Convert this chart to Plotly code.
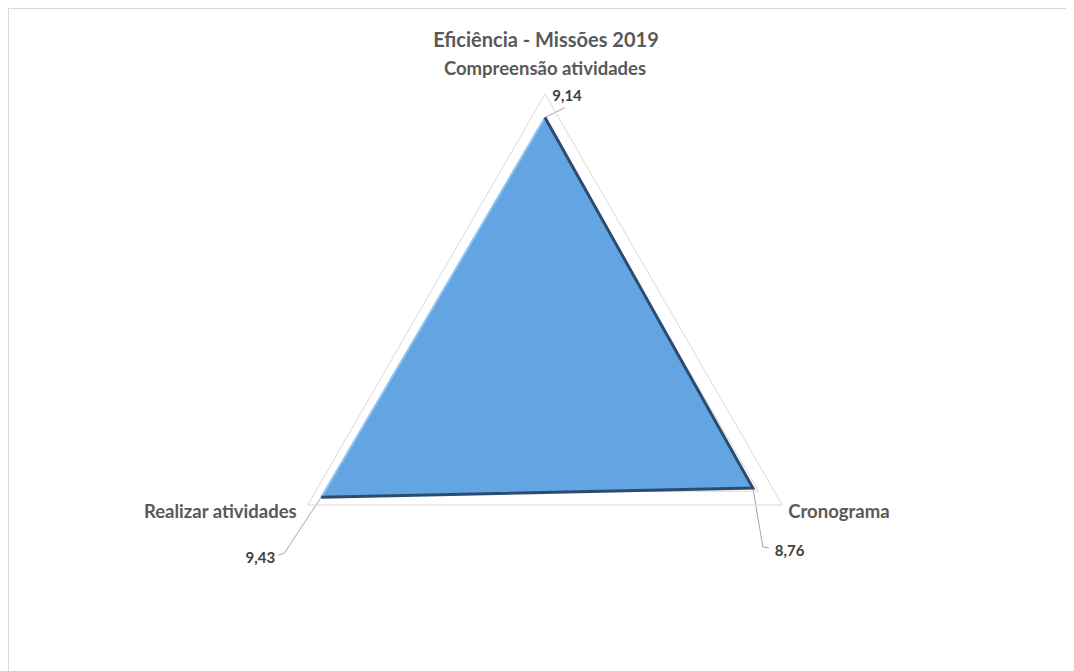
import math
import plotly.graph_objects as go

# chart data
categories = ["Compreensão atividades", "Cronograma", "Realizar atividades"]
values = [9.14, 8.76, 9.43]
title_text = "Eficiência - Missões 2019"
r_max = 10

# browser body margin is 8px, so the figure is a bit smaller than the window
W, H = 1066, 663
cx, cy, R = 537, 360, 274  # polar centre / radius in px
S = R / r_max  # px per unit

dom_x = [(cx - R) / W, (cx + R) / W]
dom_y = [1 - (cy + R) / H, 1 - (cy - R) / H]

grey = "#595959"
font_family = "Lato, 'Open Sans', sans-serif"


def fmt(v):
    return f"{v:.2f}".replace(".", ",")


def to_xy(r, i):
    # position of value r on spoke i in the overlay axes (clockwise from top)
    a = math.radians(120 * i)
    return r * math.sin(a), r * math.cos(a)


fig = go.Figure()

# filled radar
fig.add_trace(go.Scatterpolar(
    r=values + values[:1],
    theta=categories + categories[:1],
    mode="lines",
    fill="toself",
    fillcolor="#62a5e2",
    line=dict(color="#62a5e2", width=1),
    hoverinfo="r+theta",
    showlegend=False,
))
# bevel look: light left edge, dark right/bottom edges
fig.add_trace(go.Scatterpolar(
    r=[values[2], values[0]],
    theta=[categories[2], categories[0]],
    mode="lines",
    line=dict(color="#8cc4f2", width=2),
    hoverinfo="skip",
    showlegend=False,
))
fig.add_trace(go.Scatterpolar(
    r=[values[0], values[1], values[2]],
    theta=[categories[0], categories[1], categories[2]],
    mode="lines",
    line=dict(color="#2b4c70", width=3),
    hoverinfo="skip",
    showlegend=False,
))

# data labels with leader lines, offsets in px from each data point
leader_px = [
    [(20, -10)],
    [(10, 59), (16, 60)],
    [(-37, 56), (-43, 58)],
]
label_px = [(22, -20), (22, 64), (-46, 62)]
label_pos = ["middle center", "middle right", "middle left"]
for i, v in enumerate(values):
    x0, y0 = to_xy(v, i)
    fig.add_trace(go.Scatter(
        x=[x0] + [x0 + dx / S for dx, dy in leader_px[i]],
        y=[y0] + [y0 - dy / S for dx, dy in leader_px[i]],
        mode="lines",
        line=dict(color="#a6a6a6", width=1),
        hoverinfo="skip",
        cliponaxis=False,
        showlegend=False,
    ))
    dx, dy = label_px[i]
    fig.add_trace(go.Scatter(
        x=[x0 + dx / S],
        y=[y0 - dy / S],
        mode="text",
        text=[fmt(v)],
        textposition=label_pos[i],
        textfont=dict(family=font_family, size=15, color="#404040", weight="bold"),
        hoverinfo="skip",
        cliponaxis=False,
        showlegend=False,
    ))

# category labels, offsets in px from the outer grid vertex
cat_px = [(0, -24), (6, 8), (-11, 8)]
cat_pos = ["middle center", "middle right", "middle left"]
for i, name in enumerate(categories):
    x0, y0 = to_xy(r_max, i)
    dx, dy = cat_px[i]
    fig.add_trace(go.Scatter(
        x=[x0 + dx / S],
        y=[y0 - dy / S],
        mode="text",
        text=[name],
        textposition=cat_pos[i],
        textfont=dict(family=font_family, size=18.5, color=grey, weight="bold"),
        hoverinfo="skip",
        cliponaxis=False,
        showlegend=False,
    ))

fig.update_layout(
    width=W,
    height=H,
    margin=dict(l=0, r=0, t=0, b=0),
    paper_bgcolor="white",
    plot_bgcolor="rgba(0,0,0,0)",
    font=dict(family=font_family, color=grey),
    title=dict(
        text=title_text,
        x=538 / W,
        xanchor="center",
        y=1 - 32 / H,
        yanchor="middle",
        font=dict(size=20, color=grey, weight="bold"),
    ),
    xaxis=dict(range=[-cx / S, (W - cx) / S], visible=False, fixedrange=True),
    yaxis=dict(range=[-(H - cy) / S, cy / S], visible=False, fixedrange=True),
    polar=dict(
        domain=dict(x=dom_x, y=dom_y),
        bgcolor="rgba(0,0,0,0)",
        gridshape="linear",
        radialaxis=dict(
            range=[0, r_max],
            tickvals=[9],
            showticklabels=False,
            ticks="",
            showline=False,
            gridcolor="#d9d9d9",
            gridwidth=1,
        ),
        angularaxis=dict(
            rotation=90,
            direction="clockwise",
            showgrid=False,
            showline=True,
            linecolor="#d9d9d9",
            linewidth=1,
            ticks="",
            showticklabels=False,
        ),
    ),
    shapes=[
        dict(type="line", xref="paper", yref="paper", x0=0, x1=1, y0=1, y1=1,
             line=dict(color="#d9d9d9", width=2)),
        dict(type="line", xref="paper", yref="paper", x0=0, x1=0, y0=0, y1=1,
             line=dict(color="#d9d9d9", width=2)),
    ],
)

fig.write_html("out.html")
